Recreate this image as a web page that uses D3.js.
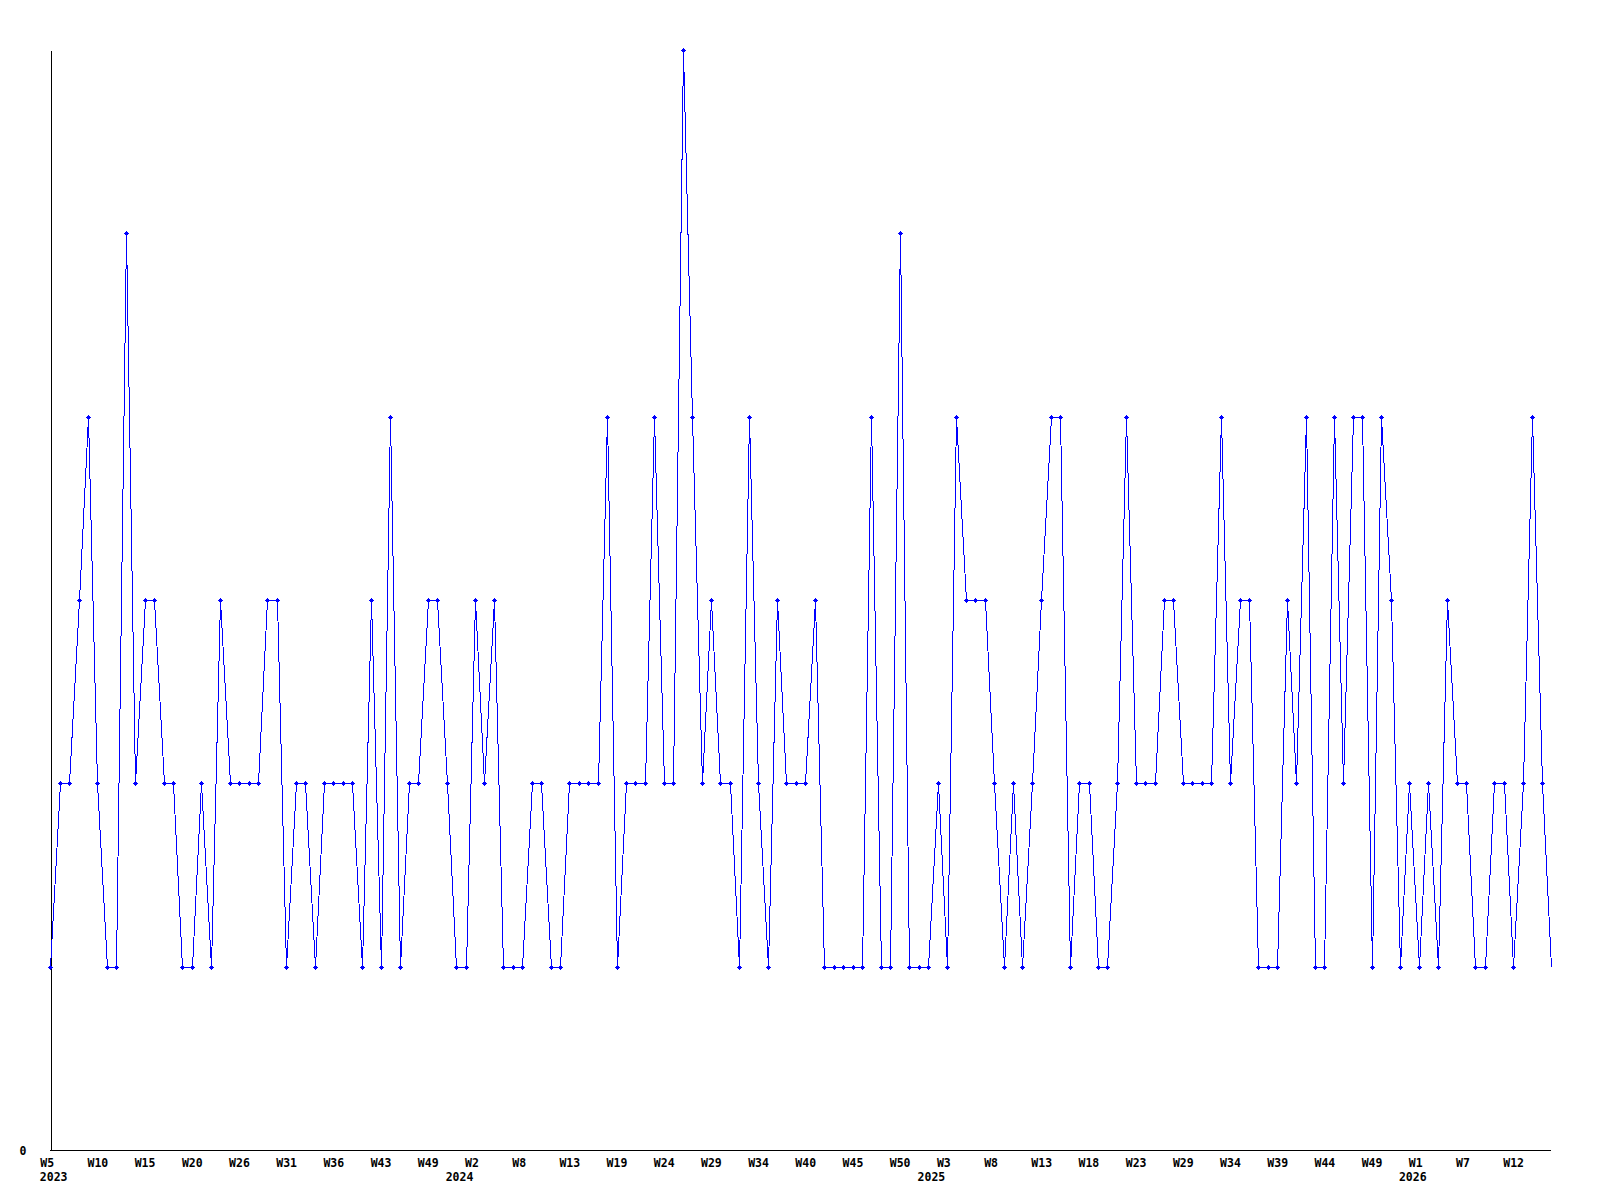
<!DOCTYPE html>
<html>
<head>
<meta charset="utf-8">
<script src="https://cdn.jsdelivr.net/npm/d3@7"></script>
<style>
    body { margin: 0; background: #fff; }
    .label { font-family: "DejaVu Sans Mono", "Liberation Mono", monospace; font-weight: bold; font-size: 11.5px; fill: #000; }
</style>
</head>
<body>
<script>
(function(){

//weekly values, one per point (2023 W5 onwards)
var values = [
    1,2,2,3,4,2,1,1,5,2,
    3,3,2,2,1,1,2,1,3,2,
    2,2,2,3,3,1,2,2,1,2,
    2,2,2,1,3,1,4,1,2,2,
    3,3,2,1,1,3,2,3,1,1,
    1,2,2,1,1,2,2,2,2,4,
    1,2,2,2,4,2,2,6,4,2,
    3,2,2,1,4,2,1,3,2,2,
    2,3,1,1,1,1,1,4,1,1,
    5,1,1,1,2,1,4,3,3,3,
    2,1,2,1,2,3,4,4,1,2,
    2,1,1,2,4,2,2,2,3,3,
    2,2,2,2,4,2,3,3,1,1,
    1,3,2,4,1,1,4,2,4,4,
    1,4,3,1,2,1,2,1,3,2,
    2,1,1,2,2,1,2,4,2,1
];

//week labels, one every 5th point
var weekLabels = ["W5","W10","W15","W20","W26","W31","W36","W43","W49",
    "W2","W8","W13","W19","W24","W29","W34","W40","W45","W50",
    "W3","W8","W13","W18","W23","W29","W34","W39","W44","W49",
    "W1","W7","W12"];
var weekStep = 5;

//year labels and the point index they sit under
var yearLabels = ["2023", "2024", "2025", "2026"];
var yearIndex = [0, 43, 93, 144];

var yTicks = [0];

//frame
var width = 1600,
    height = 1200,
    left = 50,
    right = 1551,
    top = 50,
    bottom = 1150;

var svg = d3.select("body")
    .append("svg")
    .attr("width", width)
    .attr("height", height);

var x = d3.scaleLinear()
    .domain([0, values.length - 1])
    .range([left + 0.3, right]);

var y = d3.scaleLinear()
    .domain([0, 6])
    .range([bottom, top]);

//y axis, only the zero label
var yAxis = svg.append("g")
    .attr("transform", "translate(" + (left + 0.5) + ",0)")
    .call(d3.axisLeft(y)
        .tickValues(yTicks)
        .tickFormat(d3.format("d"))
        .tickSize(0)
        .tickPadding(0));
yAxis.select(".domain").attr("stroke", "#000").attr("shape-rendering", "crispEdges");
yAxis.selectAll("text")
    .attr("class", "label")
    .attr("x", -24)
    .attr("dy", null)
    .attr("y", 4.5)
    .attr("text-anchor", "end");

//x axis with week ticks
var tickIdx = weekLabels.map(function(d, i){ return i * weekStep; });
var xAxis = svg.append("g")
    .attr("transform", "translate(0," + (bottom + 0.5) + ")")
    .call(d3.axisBottom(x)
        .tickValues(tickIdx)
        .tickFormat(function(d, i){ return weekLabels[i]; })
        .tickSize(0));
xAxis.select(".domain")
    .attr("stroke", "#000")
    .attr("shape-rendering", "crispEdges")
    .attr("d", "M" + left + ",0H" + right);
xAxis.selectAll("text")
    .attr("class", "label")
    .attr("text-anchor", "start")
    .attr("x", -10.5)
    .attr("dy", null)
    .attr("y", 16);

//year labels under the week labels
svg.selectAll(".year")
    .data(yearLabels)
    .enter()
    .append("text")
    .attr("class", "label year")
    .attr("x", function(d, i){ return x(yearIndex[i]) - 10.5; })
    .attr("y", bottom + 31)
    .text(function(d){ return d; });

//the series line
var line = d3.line()
    .x(function(d, i){ return Math.round(x(i)) + 0.5; })
    .y(function(d){ return Math.round(y(d)) + 0.5; });

svg.append("path")
    .datum(values)
    .attr("fill", "none")
    .attr("stroke", "#0000ff")
    .attr("stroke-width", 1)
    .attr("shape-rendering", "crispEdges")
    .attr("d", line);

//small cross markers, none on the last point
var marker = "M-2,0H3V1H-2Z M0,-2H1V3H0Z M-1,-1H2V2H-1Z";
svg.selectAll(".marker")
    .data(values.slice(0, values.length - 1))
    .enter()
    .append("path")
    .attr("class", "marker")
    .attr("fill", "#0000ff")
    .attr("shape-rendering", "crispEdges")
    .attr("transform", function(d, i){
        return "translate(" + Math.round(x(i)) + "," + Math.round(y(d)) + ")";
    })
    .attr("d", marker);

})();
</script>
</body>
</html>
